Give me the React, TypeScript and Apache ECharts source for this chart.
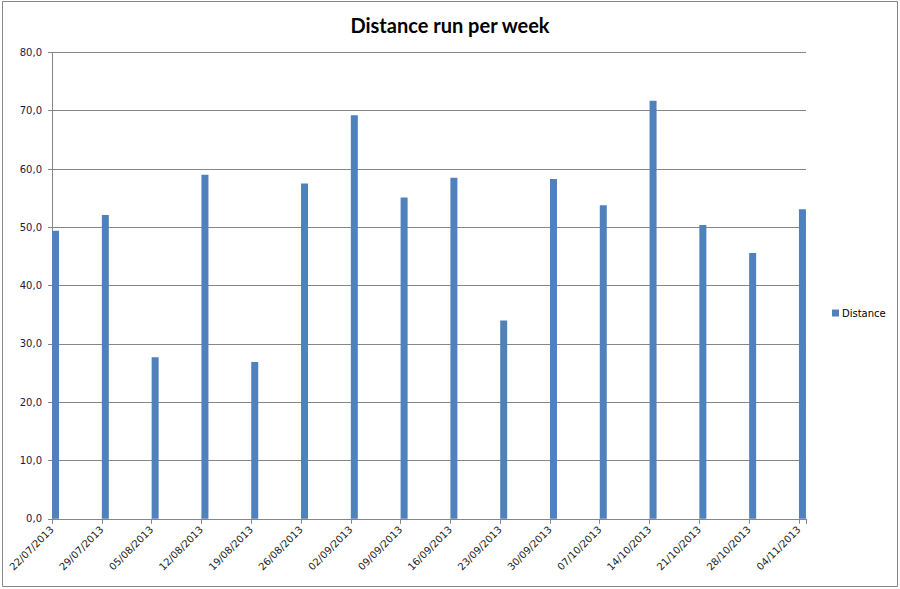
import React, { useEffect, useRef } from "react";
import * as echarts from "echarts";

const title = "Distance run per week";
const seriesName = "Distance";
const dates = [
  "22/07/2013", "29/07/2013", "05/08/2013", "12/08/2013", "19/08/2013", "26/08/2013",
  "02/09/2013", "09/09/2013", "16/09/2013", "23/09/2013", "30/09/2013", "07/10/2013",
  "14/10/2013", "21/10/2013", "28/10/2013", "04/11/2013",
];
const distances = [49.4, 52.1, 27.7, 59.0, 26.9, 57.5, 69.2, 55.1, 58.5, 34.0, 58.3, 53.8, 71.7, 50.4, 45.6, 53.1];
const yTicks = [0, 10, 20, 30, 40, 50, 60, 70, 80];

const DAY = 86400000;
function parseDate(s: string): number {
  const [d, m, y] = s.split("/").map(Number);
  return Date.UTC(y, m - 1, d);
}
const start = parseDate(dates[0]);
const dayIndex = (s: string) => Math.round((parseDate(s) - start) / DAY);

export default function App() {
  const ref = useRef<HTMLDivElement>(null);
  useEffect(() => {
    if (!ref.current) return;
    const chart = echarts.init(ref.current, null, { renderer: "svg" });
    const lastDay = dayIndex(dates[dates.length - 1]) + 1;
    const axisColor = "#868686";
    chart.setOption({
      animation: false,
      backgroundColor: "#ffffff",
      title: {
        text: title,
        left: "center",
        top: 10,
        textStyle: { fontFamily: "Lato", fontWeight: "bold", fontSize: 20, color: "#000000" },
      },
      legend: {
        orient: "vertical",
        left: 827,
        top: 303,
        itemWidth: 7,
        itemHeight: 7,
        itemGap: 5,
        icon: "rect",
        textStyle: { fontFamily: "DejaVu Sans", fontSize: 10, color: "#000000", padding: [0, 0, 0, -2] },
        data: [seriesName],
      },
      grid: { left: 52, right: 94, top: 52.4, bottom: 70.2, containLabel: false },
      xAxis: {
        type: "value",
        min: 0,
        max: lastDay,
        interval: 7,
        axisLine: { show: true, lineStyle: { color: axisColor, width: 1 } },
        axisTick: { show: true, length: 5, lineStyle: { color: axisColor } },
        splitLine: { show: false },
        axisLabel: {
          rotate: 45,
          margin: 9,
          fontFamily: "DejaVu Sans",
          fontSize: 10,
          color: "#1a1a1a",
          showMaxLabel: true,
          formatter: (v: number) => (v % 7 === 0 && dates[v / 7]) ? dates[v / 7] : "",
        },
      },
      yAxis: {
        type: "value",
        min: yTicks[0],
        max: yTicks[yTicks.length - 1],
        interval: 10,
        axisLine: { show: true, lineStyle: { color: axisColor, width: 1 } },
        axisTick: { show: true, length: 4, lineStyle: { color: axisColor } },
        splitLine: { show: true, lineStyle: { color: axisColor, width: 1 } },
        axisLabel: {
          margin: 10,
          fontFamily: "DejaVu Sans",
          fontSize: 10,
          color: "#1a1a40",
          formatter: (v: number) => v.toFixed(1).replace(".", ","),
        },
      },
      series: [
        {
          name: seriesName,
          type: "bar",
          barWidth: 7,
          itemStyle: { color: "#4F81BD" },
          data: dates.map((d, i) => [dayIndex(d) + 0.5, distances[i]]),
        },
      ],
      graphic: [
        {
          type: "rect",
          shape: { x: 2.5, y: 1.5, width: 895, height: 585 },
          style: { fill: "none", stroke: "#868686", lineWidth: 1 },
          silent: true,
        },
      ],
    });
    return () => chart.dispose();
  }, []);
  return (
    <div
      ref={ref}
      style={{ position: "absolute", left: 0, top: 0, width: 900, height: 589 }}
    />
  );
}
